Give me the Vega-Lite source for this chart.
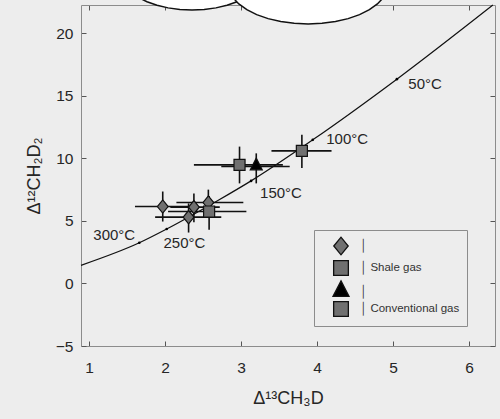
{
  "$schema": "https://vega.github.io/schema/vega-lite/v6.json",
  "width": 414,
  "height": 341,
  "autosize": {"type": "none"},
  "padding": {"left": 81, "top": 5, "right": 5, "bottom": 73},
  "background": "#ededed",
  "config": {
    "view": {"stroke": null},
    "font": "Liberation Sans",
    "axis": {
      "domainColor": "#8c8c8c",
      "tickColor": "#555555",
      "tickSize": -5,
      "grid": false,
      "labelFont": "Liberation Sans",
      "labelFontSize": 15.5,
      "labelColor": "#262626",
      "titleFont": "Liberation Sans",
      "titleFontSize": 18,
      "titleFontWeight": "normal",
      "titleColor": "#262626",
      "domainWidth": 1,
      "tickWidth": 1
    }
  },
  "datasets": {
    "curve": [
      {"x": 0.895, "y": 1.45},
      {"x": 1.662, "y": 3.25},
      {"x": 2.022, "y": 4.35},
      {"x": 2.701, "y": 6.65},
      {"x": 3.132, "y": 8.2},
      {"x": 3.943, "y": 11.48},
      {"x": 5.049, "y": 16.33},
      {"x": 6.312, "y": 22.26}
    ],
    "temps": [
      {"x": 5.049, "y": 16.33, "lx": 5.2, "ly": 15.93, "t": "50°C"},
      {"x": 3.943, "y": 11.48, "lx": 4.12, "ly": 11.53, "t": "100°C"},
      {"x": 3.132, "y": 8.2, "lx": 3.25, "ly": 7.22, "t": "150°C"},
      {"x": 2.022, "y": 4.35, "lx": 1.98, "ly": 3.23, "t": "250°C"},
      {"x": 1.662, "y": 3.25, "lx": 1.057, "ly": 3.89, "t": "300°C"}
    ],
    "samples": [
      {"g": "S1", "x": 1.97, "y": 6.15, "xlo": 1.605, "xhi": 2.33, "ylo": 4.95, "yhi": 7.35},
      {"g": "S1", "x": 2.38, "y": 6.1, "xlo": 2.07, "xhi": 2.72, "ylo": 4.9, "yhi": 7.2},
      {"g": "S1", "x": 2.31, "y": 5.3, "xlo": 1.87, "xhi": 2.74, "ylo": 4.07, "yhi": 6.4},
      {"g": "S1", "x": 2.57, "y": 6.47, "xlo": 2.15, "xhi": 3.03, "ylo": 5.5, "yhi": 7.5},
      {"g": "S2", "x": 2.58, "y": 5.75, "xlo": 2.04, "xhi": 3.07, "ylo": 4.3, "yhi": 7.0},
      {"g": "S2", "x": 2.98, "y": 9.48, "xlo": 2.38, "xhi": 3.55, "ylo": 8.0, "yhi": 10.94},
      {"g": "S3", "x": 3.2, "y": 9.35, "xlo": 2.74, "xhi": 3.64, "ylo": 8.0, "yhi": 10.4},
      {"g": "C", "x": 3.8, "y": 10.6, "xlo": 3.4, "xhi": 4.19, "ylo": 9.22, "yhi": 11.88}
    ],
    "cloudBack": [{"x": 2.355, "y": 24.66}],
    "cloudFront": [{"x": 3.882, "y": 23.94}]
  },
  "layer": [
    {
      "data": {"name": "curve"},
      "mark": {"type": "line", "color": "#111111", "strokeWidth": 1.2, "interpolate": "monotone"},
      "encoding": {
        "x": {"field": "x", "type": "quantitative", "scale": {"domain": [0.895, 6.34], "nice": false, "zero": false},
              "axis": {"orient": "bottom", "values": [1, 2, 3, 4, 5, 6], "title": "Δ¹³CH₃D", "labelPadding": 19, "titlePadding": 14}},
        "y": {"field": "y", "type": "quantitative", "scale": {"domain": [-5, 22.26], "nice": false, "zero": false},
              "axis": {"orient": "left", "values": [-5, 0, 5, 10, 15, 20], "title": "Δ¹²CH₂D₂", "labelPadding": 13, "titlePadding": 12}}
      }
    },
    {
      "data": {"name": "temps"},
      "mark": {"type": "point", "filled": true, "color": "#000000", "size": 7, "opacity": 1},
      "encoding": {
        "x": {"field": "x", "type": "quantitative", "scale": {"domain": [0.895, 6.34], "nice": false, "zero": false},
              "axis": {"orient": "top", "values": [1, 2, 3, 4, 5, 6], "labels": false, "title": null}},
        "y": {"field": "y", "type": "quantitative", "scale": {"domain": [-5, 22.26], "nice": false, "zero": false},
              "axis": {"orient": "right", "values": [-5, 0, 5, 10, 15, 20], "labels": false, "title": null}}
      }
    },
    {
      "data": {"name": "temps"},
      "mark": {"type": "text", "align": "left", "baseline": "middle", "fontSize": 15, "font": "Liberation Sans", "color": "#262626"},
      "encoding": {
        "x": {"field": "lx", "type": "quantitative", "scale": {"domain": [0.895, 6.34], "nice": false, "zero": false}, "axis": null},
        "y": {"field": "ly", "type": "quantitative", "scale": {"domain": [-5, 22.26], "nice": false, "zero": false}, "axis": null},
        "text": {"field": "t"}
      }
    },
    {
      "data": {"name": "samples"},
      "mark": {"type": "rule", "color": "#111111", "strokeWidth": 1.6},
      "encoding": {
        "x": {"field": "xlo", "type": "quantitative", "scale": {"domain": [0.895, 6.34], "nice": false, "zero": false}, "axis": null},
        "x2": {"field": "xhi"},
        "y": {"field": "y", "type": "quantitative", "scale": {"domain": [-5, 22.26], "nice": false, "zero": false}, "axis": null}
      }
    },
    {
      "data": {"name": "samples"},
      "mark": {"type": "rule", "color": "#111111", "strokeWidth": 1.6},
      "encoding": {
        "x": {"field": "x", "type": "quantitative", "scale": {"domain": [0.895, 6.34], "nice": false, "zero": false}, "axis": null},
        "y": {"field": "ylo", "type": "quantitative", "scale": {"domain": [-5, 22.26], "nice": false, "zero": false}, "axis": null},
        "y2": {"field": "yhi"}
      }
    },
    {
      "data": {"name": "samples"},
      "mark": {"type": "point", "filled": true, "opacity": 1, "size": 144, "stroke": "#111111", "strokeWidth": 1.2},
      "encoding": {
        "x": {"field": "x", "type": "quantitative", "scale": {"domain": [0.895, 6.34], "nice": false, "zero": false}, "axis": null},
        "y": {"field": "y", "type": "quantitative", "scale": {"domain": [-5, 22.26], "nice": false, "zero": false}, "axis": null},
        "fill": {
          "field": "g", "type": "nominal",
          "scale": {"domain": ["S1", "S2", "S3", "C"], "range": ["#707070", "#707070", "#000000", "#707070"]},
          "legend": {
            "orient": "none", "legendX": 233, "legendY": 225, "title": null,
            "padding": 7, "strokeColor": "#8c8c8c", "fillColor": "#ededed",
            "symbolSize": 256, "symbolStrokeColor": "#111111", "symbolStrokeWidth": 1.3,
            "symbolOffset": 11, "labelOffset": 10, "rowPadding": 0,
            "labelFontSize": 11.5, "labelColor": "#333333", "labelFont": "Liberation Sans",
            "labelExpr": "datum.value === 'S2' ? '│ Shale gas' : datum.value === 'C' ? '│ Conventional gas' : '│'"
          }
        },
        "shape": {
          "field": "g", "type": "nominal",
          "scale": {"domain": ["S1", "S2", "S3", "C"], "range": ["M-0.9,0L0,-1.1L0.9,0L0,1.1Z", "M-0.92,-0.92L0.92,-0.92L0.92,0.92L-0.92,0.92Z", "M0,-1.4L1,0.55L-1,0.55Z", "M-0.92,-0.92L0.92,-0.92L0.92,0.92L-0.92,0.92Z"]}
        }
      }
    },
    {
      "data": {"name": "cloudBack"},
      "mark": {"type": "point", "filled": true, "fill": "#ffffff", "stroke": "#111111", "strokeWidth": 1.5, "opacity": 1, "size": 19600,
               "shape": "M1,0L0.985,0.087L0.94,0.171L0.866,0.25L0.766,0.321L0.643,0.383L0.5,0.433L0.342,0.47L0.174,0.492L0,0.5L-0.174,0.492L-0.342,0.47L-0.5,0.433L-0.643,0.383L-0.766,0.321L-0.866,0.25L-0.94,0.171L-0.985,0.087L-1,0L-0.985,-0.087L-0.94,-0.171L-0.866,-0.25L-0.766,-0.321L-0.643,-0.383L-0.5,-0.433L-0.342,-0.47L-0.174,-0.492L0,-0.5L0.174,-0.492L0.342,-0.47L0.5,-0.433L0.643,-0.383L0.766,-0.321L0.866,-0.25L0.94,-0.171L0.985,-0.087Z"},
      "encoding": {
        "x": {"field": "x", "type": "quantitative", "scale": {"domain": [0.895, 6.34], "nice": false, "zero": false}, "axis": null},
        "y": {"field": "y", "type": "quantitative", "scale": {"domain": [-5, 22.26], "nice": false, "zero": false}, "axis": null}
      }
    },
    {
      "data": {"name": "cloudFront"},
      "mark": {"type": "point", "filled": true, "fill": "#ffffff", "stroke": "#111111", "strokeWidth": 1.5, "opacity": 1, "size": 25600,
               "shape": "M1,0L0.985,0.087L0.94,0.171L0.866,0.25L0.766,0.321L0.643,0.383L0.5,0.433L0.342,0.47L0.174,0.492L0,0.5L-0.174,0.492L-0.342,0.47L-0.5,0.433L-0.643,0.383L-0.766,0.321L-0.866,0.25L-0.94,0.171L-0.985,0.087L-1,0L-0.985,-0.087L-0.94,-0.171L-0.866,-0.25L-0.766,-0.321L-0.643,-0.383L-0.5,-0.433L-0.342,-0.47L-0.174,-0.492L0,-0.5L0.174,-0.492L0.342,-0.47L0.5,-0.433L0.643,-0.383L0.766,-0.321L0.866,-0.25L0.94,-0.171L0.985,-0.087Z"},
      "encoding": {
        "x": {"field": "x", "type": "quantitative", "scale": {"domain": [0.895, 6.34], "nice": false, "zero": false}, "axis": null},
        "y": {"field": "y", "type": "quantitative", "scale": {"domain": [-5, 22.26], "nice": false, "zero": false}, "axis": null}
      }
    }
  ],
  "resolve": {"axis": {"x": "independent", "y": "independent"}}
}
